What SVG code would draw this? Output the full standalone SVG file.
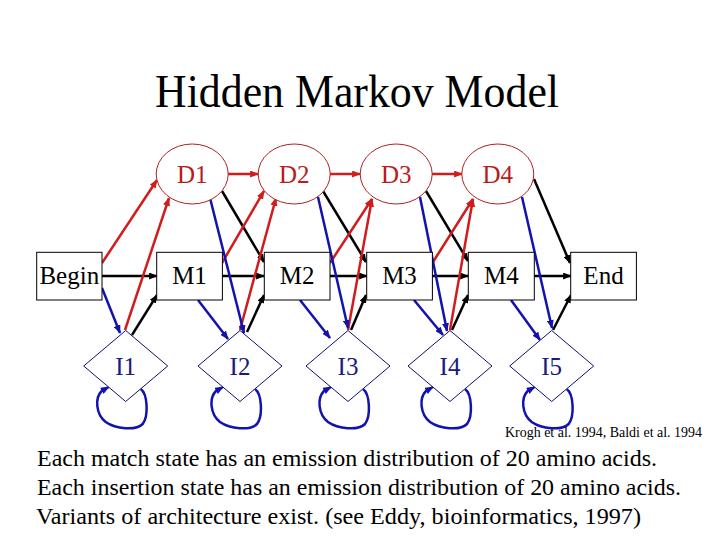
<svg xmlns="http://www.w3.org/2000/svg" width="720" height="540" viewBox="0 0 720 540" font-family="Liberation Serif">
<style>
.box{fill:#fff;stroke:#000;stroke-width:1}
.ell{fill:#fff;stroke:#b02020;stroke-width:1}
.dia{fill:#fff;stroke:#10106a;stroke-width:1}
.lbl{font-size:25px;fill:#000;text-anchor:middle}
.dlbl{font-size:25px;fill:#b81c1c;text-anchor:middle}
.ilbl{font-size:25px;fill:#1a1a80;text-anchor:middle}
.k{stroke:#000;stroke-width:2.5;fill:none;marker-end:url(#ak)}
.r{stroke:#d01c1c;stroke-width:2.5;fill:none;marker-end:url(#ar)}
.b{stroke:#1212b0;stroke-width:2.5;fill:none;marker-end:url(#ab)}
.body{font-size:23px;fill:#000}
</style>
<defs>
<marker id="ak" viewBox="0 0 10 8" refX="9" refY="4" markerUnits="userSpaceOnUse" markerWidth="9" markerHeight="7" orient="auto"><path d="M0,0 L10,4 L0,8 z" fill="#000"/></marker>
<marker id="ar" viewBox="0 0 10 8" refX="9" refY="4" markerUnits="userSpaceOnUse" markerWidth="9" markerHeight="7" orient="auto"><path d="M0,0 L10,4 L0,8 z" fill="#d01c1c"/></marker>
<marker id="ab" viewBox="0 0 10 8" refX="9" refY="4" markerUnits="userSpaceOnUse" markerWidth="9" markerHeight="7" orient="auto"><path d="M0,0 L10,4 L0,8 z" fill="#1212b0"/></marker>
</defs>
<rect width="720" height="540" fill="#fff"/>
<text x="357" y="107" font-size="46" text-anchor="middle" textLength="404" lengthAdjust="spacingAndGlyphs" font-family="Liberation Serif">Hidden Markov Model</text>

<g id="connectors">
<path class="k" d="M102,276 L157,276"/>
<path class="k" d="M222,276 L264,276"/>
<path class="k" d="M330,276 L367,276"/>
<path class="k" d="M432,276 L468,276"/>
<path class="k" d="M534,276 L571,276"/>
<path class="k" d="M222,191 L264,262"/>
<path class="k" d="M323,191 L366,262"/>
<path class="k" d="M426,191 L468,261"/>
<path class="k" d="M534,179 L570,263"/>
<path class="k" d="M132,335 L157,295"/>
<path class="k" d="M247,332 L264,295"/>
<path class="k" d="M351,330 L366,295"/>
<path class="k" d="M452,330 L468,295"/>
<path class="k" d="M553,330 L571,295"/>
<path class="r" d="M102,263 L157,180"/>
<path class="r" d="M228,174 L258,174"/>
<path class="r" d="M330,174 L360,174"/>
<path class="r" d="M432,174 L462,174"/>
<path class="r" d="M222,263 L264,191"/>
<path class="r" d="M330,263 L372,199"/>
<path class="r" d="M433,262 L473,199"/>
<path class="r" d="M125,330 L169,198"/>
<path class="r" d="M240,330 L276,198"/>
<path class="r" d="M348,330 L372,199"/>
<path class="r" d="M450,330 L473,199"/>
<path class="b" d="M102,288 L120,333"/>
<path class="b" d="M198,300 L228,339"/>
<path class="b" d="M300,300 L330,338"/>
<path class="b" d="M414,300 L443,335"/>
<path class="b" d="M511,300 L540,340"/>
<path class="b" d="M210,198 L244,333"/>
<path class="b" d="M318,197 L348,328"/>
<path class="b" d="M420,197 L447,331"/>
<path class="b" d="M522,197 L552,328"/>
<path class="b" transform="translate(125.7,366)" d="M15,23 C22,28 23,50 17,58 C10,65 -10,63 -20,56 C-30,48 -31,32 -24,25 L-17,21"/>
<path class="b" transform="translate(240,366)" d="M15,23 C22,28 23,50 17,58 C10,65 -10,63 -20,56 C-30,48 -31,32 -24,25 L-17,21"/>
<path class="b" transform="translate(348,366)" d="M15,23 C22,28 23,50 17,58 C10,65 -10,63 -20,56 C-30,48 -31,32 -24,25 L-17,21"/>
<path class="b" transform="translate(450,366)" d="M15,23 C22,28 23,50 17,58 C10,65 -10,63 -20,56 C-30,48 -31,32 -24,25 L-17,21"/>
<path class="b" transform="translate(551.7,366)" d="M15,23 C22,28 23,50 17,58 C10,65 -10,63 -20,56 C-30,48 -31,32 -24,25 L-17,21"/>
</g>

<g id="Begin"><rect class="box" x="36.7" y="252.3" width="65.3" height="47.7"/><text class="lbl" x="69.3" y="284" font-family="Liberation Serif">Begin</text></g>
<g id="M1"><rect class="box" x="156.7" y="252.3" width="65.7" height="47.7"/><text class="lbl" x="189.5" y="284" font-family="Liberation Serif">M1</text></g>
<g id="M2"><rect class="box" x="264.3" y="252.3" width="65.7" height="47.7"/><text class="lbl" x="297.2" y="284" font-family="Liberation Serif">M2</text></g>
<g id="M3"><rect class="box" x="366.7" y="252.3" width="65.7" height="47.7"/><text class="lbl" x="399.5" y="284" font-family="Liberation Serif">M3</text></g>
<g id="M4"><rect class="box" x="468.3" y="252.3" width="66" height="47.7"/><text class="lbl" x="501.3" y="284" font-family="Liberation Serif">M4</text></g>
<g id="End"><rect class="box" x="570.7" y="252.3" width="65.7" height="47.7"/><text class="lbl" x="603.5" y="284" font-family="Liberation Serif">End</text></g>

<g id="D1"><ellipse class="ell" cx="192.2" cy="174" rx="36" ry="30"/><text class="dlbl" x="192.2" y="183.3" font-family="Liberation Serif">D1</text></g>
<g id="D2"><ellipse class="ell" cx="294.2" cy="174" rx="36" ry="30"/><text class="dlbl" x="294.2" y="183.3" font-family="Liberation Serif">D2</text></g>
<g id="D3"><ellipse class="ell" cx="396.2" cy="174" rx="36" ry="30"/><text class="dlbl" x="396.2" y="183.3" font-family="Liberation Serif">D3</text></g>
<g id="D4"><ellipse class="ell" cx="497.8" cy="174" rx="36" ry="30"/><text class="dlbl" x="497.8" y="183.3" font-family="Liberation Serif">D4</text></g>

<g id="I1"><path class="dia" d="M125.7,330.5 L167.7,366 L125.7,401.5 L83.7,366 Z"/><text class="ilbl" x="125.7" y="374.5" font-family="Liberation Serif">I1</text></g>
<g id="I2"><path class="dia" d="M240,330.5 L282,366 L240,401.5 L198,366 Z"/><text class="ilbl" x="240" y="374.5" font-family="Liberation Serif">I2</text></g>
<g id="I3"><path class="dia" d="M348,330.5 L390,366 L348,401.5 L306,366 Z"/><text class="ilbl" x="348" y="374.5" font-family="Liberation Serif">I3</text></g>
<g id="I4"><path class="dia" d="M450,330.5 L492,366 L450,401.5 L408,366 Z"/><text class="ilbl" x="450" y="374.5" font-family="Liberation Serif">I4</text></g>
<g id="I5"><path class="dia" d="M551.7,330.5 L593.7,366 L551.7,401.5 L509.7,366 Z"/><text class="ilbl" x="551.7" y="374.5" font-family="Liberation Serif">I5</text></g>

<text x="505" y="437" font-size="14" textLength="197" lengthAdjust="spacingAndGlyphs" font-family="Liberation Serif">Krogh et al. 1994, Baldi et al. 1994</text>
<text class="body" x="37" y="466" textLength="620" lengthAdjust="spacingAndGlyphs" font-family="Liberation Serif">Each match state has an emission distribution of 20 amino acids.</text>
<text class="body" x="37" y="495" textLength="644" lengthAdjust="spacingAndGlyphs" font-family="Liberation Serif">Each insertion state has an emission distribution of 20 amino acids.</text>
<text class="body" x="36" y="524" textLength="605" lengthAdjust="spacingAndGlyphs" font-family="Liberation Serif">Variants of architecture exist. (see Eddy, bioinformatics, 1997)</text>
</svg>
